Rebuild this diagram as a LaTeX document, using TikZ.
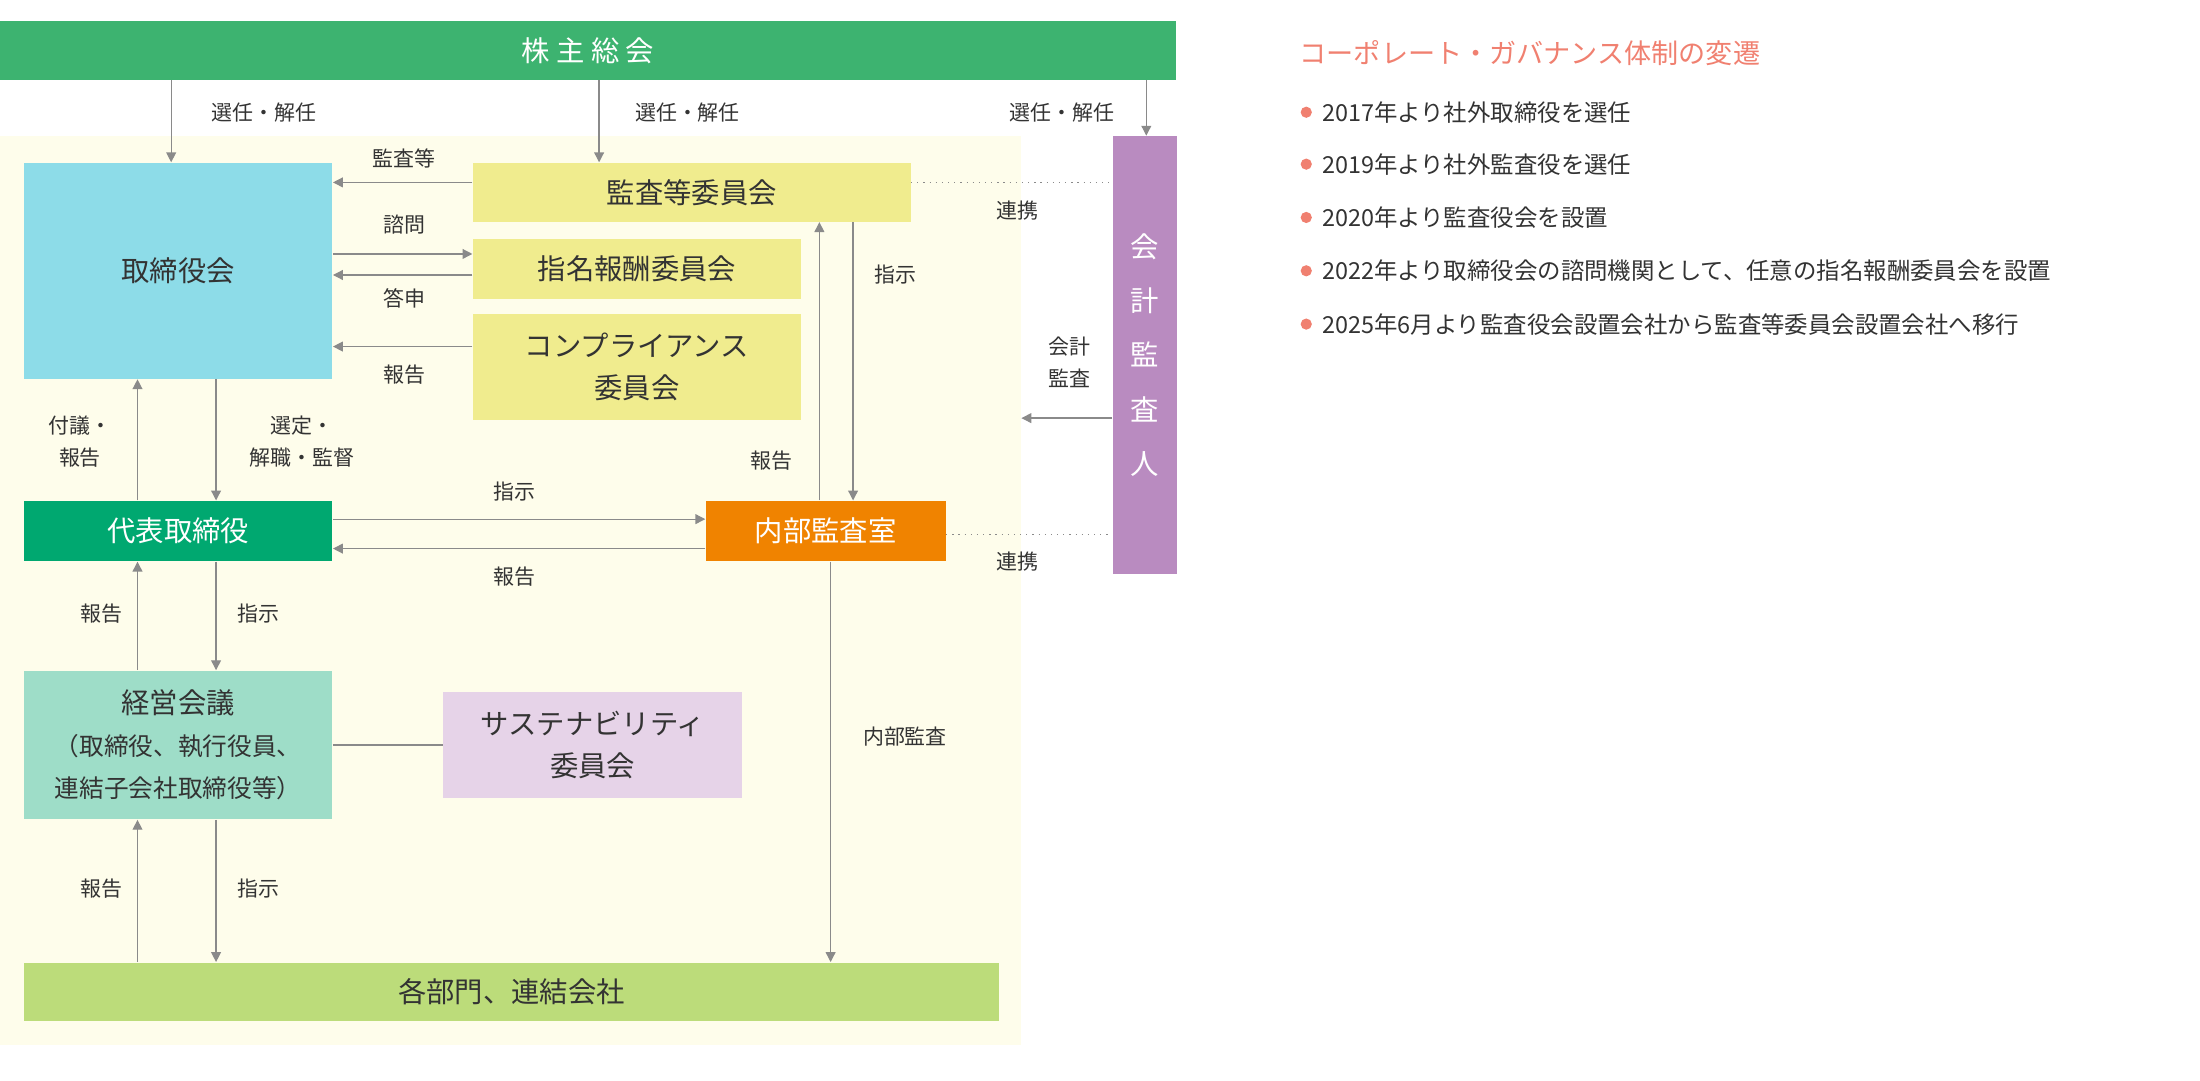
\documentclass[tikz,border=0pt]{standalone}
\usepackage{fontspec}
\setmainfont{Noto Sans CJK JP}
\usetikzlibrary{arrows.meta}
\definecolor{textgray}{HTML}{333333}
\definecolor{linegray}{HTML}{8A8A8A}
\definecolor{cream}{HTML}{FEFDEB}
\definecolor{kgreen}{HTML}{3DB370}
\definecolor{kblue}{HTML}{8DDCE8}
\definecolor{kyellow}{HTML}{F0EC8E}
\definecolor{kpurple}{HTML}{B98BC0}
\definecolor{dgreen}{HTML}{00A870}
\definecolor{korange}{HTML}{F08300}
\definecolor{mint}{HTML}{9EDDC8}
\definecolor{lilac}{HTML}{E6D3E8}
\definecolor{lgreen}{HTML}{BCDC7A}
\definecolor{salmon}{HTML}{F08070}
\begin{document}
\begin{tikzpicture}[x=0.02cm,y=0.02cm,
  box/.style={draw=none,inner sep=0,align=center,text=textgray,font=\fontsize{11.5}{17}\selectfont},
  arr/.style={draw=linegray,line width=0.5pt,-{Triangle[length=4pt,width=4pt]}},
  link/.style={draw=linegray,line width=0.5pt,dotted},
  lab/.style={text=textgray,font=\fontsize{8.5}{13}\selectfont,align=center,inner sep=0},
  item/.style={text=textgray,font=\fontsize{9.5}{12}\selectfont,anchor=west,inner sep=0}]
\useasboundingbox (0,0) rectangle (1568,-770);
\fill[cream] (0,-97) rectangle (728,-745);
% boxes
\node[box,fill=kgreen,text=white,minimum width=16.76cm,minimum height=0.84cm] (kabunushi) at (419,-36) {株\ 主\ 総\ 会};
\node[box,fill=kblue,minimum width=4.4cm,minimum height=3.08cm] (torikai) at (127,-193) {取締役会};
\node[box,fill=kyellow,minimum width=6.24cm,minimum height=0.84cm] (kansa) at (493,-137) {監査等委員会};
\node[box,fill=kyellow,minimum width=4.68cm,minimum height=0.86cm] (shimei) at (454,-191.5) {指名報酬委員会};
\node[box,fill=kyellow,minimum width=4.68cm,minimum height=1.5cm] (compl) at (454,-261.5) {コンプライアンス\\委員会};
\node[box,fill=kpurple,text=white,minimum width=0.92cm,minimum height=6.24cm,font=\fontsize{11.5}{22}\selectfont] (kaikei) at (816,-253) {会\\計\\監\\査\\人};
\node[box,fill=dgreen,text=white,minimum width=4.4cm,minimum height=0.86cm] (daihyo) at (127,-378.5) {代表取締役};
\node[box,fill=korange,text=white,minimum width=3.42cm,minimum height=0.86cm] (naibu) at (588.5,-378.5) {内部監査室};
\node[box,fill=mint,minimum width=4.4cm,minimum height=2.12cm] (keiei) at (127,-531) {経営会議\\{\fontsize{10}{15}\selectfont （取締役、執行役員、}\\{\fontsize{10}{15}\selectfont 連結子会社取締役等）}};
\node[box,fill=lilac,minimum width=4.26cm,minimum height=1.52cm] (susta) at (422.5,-531) {サステナビリティ\\委員会};
\node[box,fill=lgreen,minimum width=13.9cm,minimum height=0.84cm] (bumon) at (364.5,-707) {各部門、連結会社};
% columns and rows
\coordinate (cA) at (98,0);
\coordinate (cB) at (122,0);
\coordinate (cC) at (154,0);
\coordinate (cD) at (427,0);
\coordinate (cE) at (584,0);
\coordinate (cF) at (592,0);
\coordinate (cG) at (608,0);
\coordinate (cH) at (817,0);
\coordinate (cI) at (728,0);
\coordinate (r1) at (0,-130);
\coordinate (r2) at (0,-181);
\coordinate (r3) at (0,-196);
\coordinate (r4) at (0,-247);
\coordinate (r5) at (0,-298);
\coordinate (r6) at (0,-370);
\coordinate (r7) at (0,-391);
\coordinate (r8) at (0,-381);
% connectors
\draw[arr] (kabunushi.south -| cB) -- (torikai.north -| cB);
\draw[arr] (kabunushi.south -| cD) -- (kansa.north -| cD);
\draw[arr] (kabunushi.south -| cH) -- (kaikei.north -| cH);
\draw[arr] (kansa.west |- r1) -- (torikai.east |- r1);
\draw[arr] (torikai.east |- r2) -- (shimei.west |- r2);
\draw[arr] (shimei.west |- r3) -- (torikai.east |- r3);
\draw[arr] (compl.west |- r4) -- (torikai.east |- r4);
\draw[link] (kansa.east |- r1) -- (kaikei.west |- r1);
\draw[arr] (kansa.south -| cG) -- (naibu.north -| cG);
\draw[arr] (naibu.north -| cE) -- (kansa.south -| cE);
\draw[arr] (kaikei.west |- r5) -- (cI |- r5);
\draw[link] (naibu.east |- r8) -- (kaikei.west |- r8);
\draw[arr] (torikai.south -| cC) -- (daihyo.north -| cC);
\draw[arr] (daihyo.north -| cA) -- (torikai.south -| cA);
\draw[arr] (daihyo.east |- r6) -- (naibu.west |- r6);
\draw[arr] (naibu.west |- r7) -- (daihyo.east |- r7);
\draw[arr] (keiei.north -| cA) -- (daihyo.south -| cA);
\draw[arr] (daihyo.south -| cC) -- (keiei.north -| cC);
\draw[draw=linegray,line width=0.5pt] (keiei.east) -- (susta.west);
\draw[arr] (bumon.north -| cA) -- (keiei.south -| cA);
\draw[arr] (keiei.south -| cC) -- (bumon.north -| cC);
\draw[arr] (naibu.south -| cF) -- (bumon.north -| cF);
% labels
\node[lab] (l1) at (188,-80) {選任・解任};
\node[lab] (l2) at (490,-80) {選任・解任};
\node[lab] (l3) at (757,-80) {選任・解任};
\node[lab] (l4) at (288,-113) {監査等};
\node[lab] (l5) at (288,-160) {諮問};
\node[lab] (l6) at (288,-213) {答申};
\node[lab] (l7) at (288,-267) {報告};
\node[lab] (l8) at (725,-150) {連携};
\node[lab] (l9) at (638,-196) {指示};
\node[lab] (l10) at (550,-328) {報告};
\node[lab] (l11) at (762,-258) {会計\\監査};
\node[lab] (l12) at (725,-400) {連携};
\node[lab] (l13) at (215,-315) {選定・\\解職・監督};
\node[lab] (l14) at (57,-315) {付議・\\報告};
\node[lab] (l15) at (367,-350) {指示};
\node[lab] (l16) at (367,-411) {報告};
\node[lab] (l17) at (72,-437) {報告};
\node[lab] (l18) at (184,-437) {指示};
\node[lab] (l19) at (72,-633) {報告};
\node[lab] (l20) at (184,-633) {指示};
\node[lab] (l21) at (645,-525) {内部監査};
% history
\node[item,text=salmon,font=\fontsize{11}{13}\selectfont] (title) at (926,-38) {コーポレート・ガバナンス体制の変遷};
\foreach \y/\t [count=\i] in {80/2017年より社外取締役を選任,117/2019年より社外監査役を選任,155/2020年より監査役会を設置,193/2022年より取締役会の諮問機関として、任意の指名報酬委員会を設置,231/2025年6月より監査役会設置会社から監査等委員会設置会社へ移行}{
  \fill[salmon] (931,-\y) circle (4);
  \node[item] (h\i) at (942,-\y) {\t};
}
\end{tikzpicture}
\end{document}
